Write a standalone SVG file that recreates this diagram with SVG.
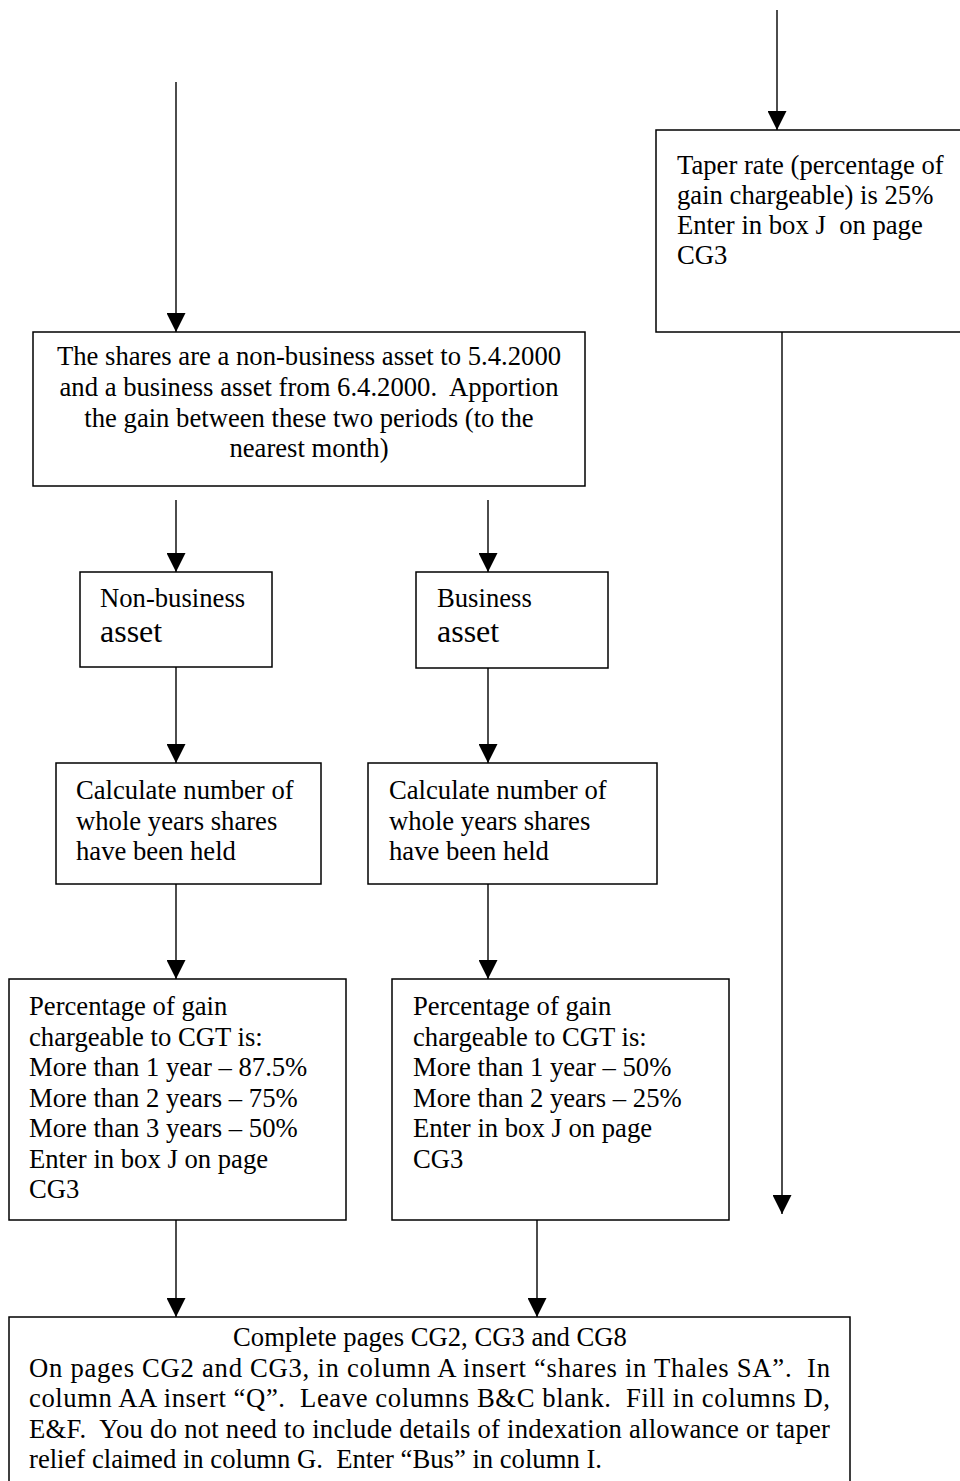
<svg xmlns="http://www.w3.org/2000/svg" width="960" height="1481" viewBox="0 0 960 1481">
<defs>
<marker id="ah" markerWidth="20" markerHeight="19" refX="20" refY="10" orient="auto" markerUnits="userSpaceOnUse" viewBox="0 0 20 20">
<path d="M0,0 L20,10 L0,20 Z" fill="#000"/>
</marker>
</defs>
<style>
rect.box{fill:#fff;stroke:#000;stroke-width:1.5}
text{font-family:"Liberation Serif","Times New Roman",serif;font-size:26.67px;fill:#000}
.big{font-size:32px}
.c{text-anchor:middle}
line.arr{stroke:#000;stroke-width:1.4;marker-end:url(#ah)}
</style>
<rect width="960" height="1481" fill="#fff"/>
<g id="connectors">
<line class="arr" x1="777" y1="10" x2="777" y2="130"/>
<line class="arr" x1="782" y1="332" x2="782" y2="1214"/>
<line class="arr" x1="176" y1="82" x2="176" y2="332"/>
<line class="arr" x1="176" y1="500" x2="176" y2="572"/>
<line class="arr" x1="488" y1="500" x2="488" y2="572"/>
<line class="arr" x1="176" y1="667" x2="176" y2="763"/>
<line class="arr" x1="488" y1="668" x2="488" y2="763"/>
<line class="arr" x1="176" y1="884" x2="176" y2="979"/>
<line class="arr" x1="488" y1="884" x2="488" y2="979"/>
<line class="arr" x1="176" y1="1220" x2="176" y2="1317"/>
<line class="arr" x1="537" y1="1220" x2="537" y2="1317"/>
</g>
<g id="taper">
<rect class="box" x="656" y="130" width="320" height="202"/>
<text x="677" y="174">Taper rate (percentage of</text>
<text x="677" y="204">gain chargeable) is 25%</text>
<text x="677" y="234" xml:space="preserve">Enter in box J  on page</text>
<text x="677" y="264">CG3</text>
</g>
<g id="apportion">
<rect class="box" x="33" y="332" width="552" height="154"/>
<text class="c" x="309" y="365">The shares are a non-business asset to 5.4.2000</text>
<text class="c" x="309" y="396" xml:space="preserve">and a business asset from 6.4.2000.  Apportion</text>
<text class="c" x="309" y="427">the gain between these two periods (to the</text>
<text class="c" x="309" y="457">nearest month)</text>
</g>
<g id="nonbusiness">
<rect class="box" x="80" y="572" width="192" height="95"/>
<text x="100" y="607">Non-business</text>
<text class="big" x="100" y="642">asset</text>
</g>
<g id="business">
<rect class="box" x="416" y="572" width="192" height="96"/>
<text x="437" y="607">Business</text>
<text class="big" x="437" y="642">asset</text>
</g>
<g id="calc-nonbusiness">
<rect class="box" x="56" y="763" width="265" height="121"/>
<text x="76" y="799">Calculate number of</text>
<text x="76" y="830">whole years shares</text>
<text x="76" y="860">have been held</text>
</g>
<g id="calc-business">
<rect class="box" x="368" y="763" width="289" height="121"/>
<text x="389" y="799">Calculate number of</text>
<text x="389" y="830">whole years shares</text>
<text x="389" y="860">have been held</text>
</g>
<g id="pct-nonbusiness">
<rect class="box" x="9" y="979" width="337" height="241"/>
<text x="29" y="1015">Percentage of gain</text>
<text x="29" y="1046">chargeable to CGT is:</text>
<text x="29" y="1076">More than 1 year – 87.5%</text>
<text x="29" y="1107">More than 2 years – 75%</text>
<text x="29" y="1137">More than 3 years – 50%</text>
<text x="29" y="1168">Enter in box J on page</text>
<text x="29" y="1198">CG3</text>
</g>
<g id="pct-business">
<rect class="box" x="392" y="979" width="337" height="241"/>
<text x="413" y="1015">Percentage of gain</text>
<text x="413" y="1046">chargeable to CGT is:</text>
<text x="413" y="1076">More than 1 year – 50%</text>
<text x="413" y="1107">More than 2 years – 25%</text>
<text x="413" y="1137">Enter in box J on page</text>
<text x="413" y="1168">CG3</text>
</g>
<g id="complete">
<rect class="box" x="9" y="1317" width="841" height="200"/>
<text class="c" x="430" y="1346">Complete pages CG2, CG3 and CG8</text>
<text x="29" y="1377" textLength="801" lengthAdjust="spacing" xml:space="preserve">On pages CG2 and CG3, in column A insert “shares in Thales SA”.  In</text>
<text x="29" y="1407" textLength="801" lengthAdjust="spacing" xml:space="preserve">column AA insert “Q”.  Leave columns B&amp;C blank.  Fill in columns D,</text>
<text x="29" y="1438" textLength="801" lengthAdjust="spacing" xml:space="preserve">E&amp;F.  You do not need to include details of indexation allowance or taper</text>
<text x="29" y="1468" xml:space="preserve">relief claimed in column G.  Enter “Bus” in column I.</text>
</g>
</svg>
